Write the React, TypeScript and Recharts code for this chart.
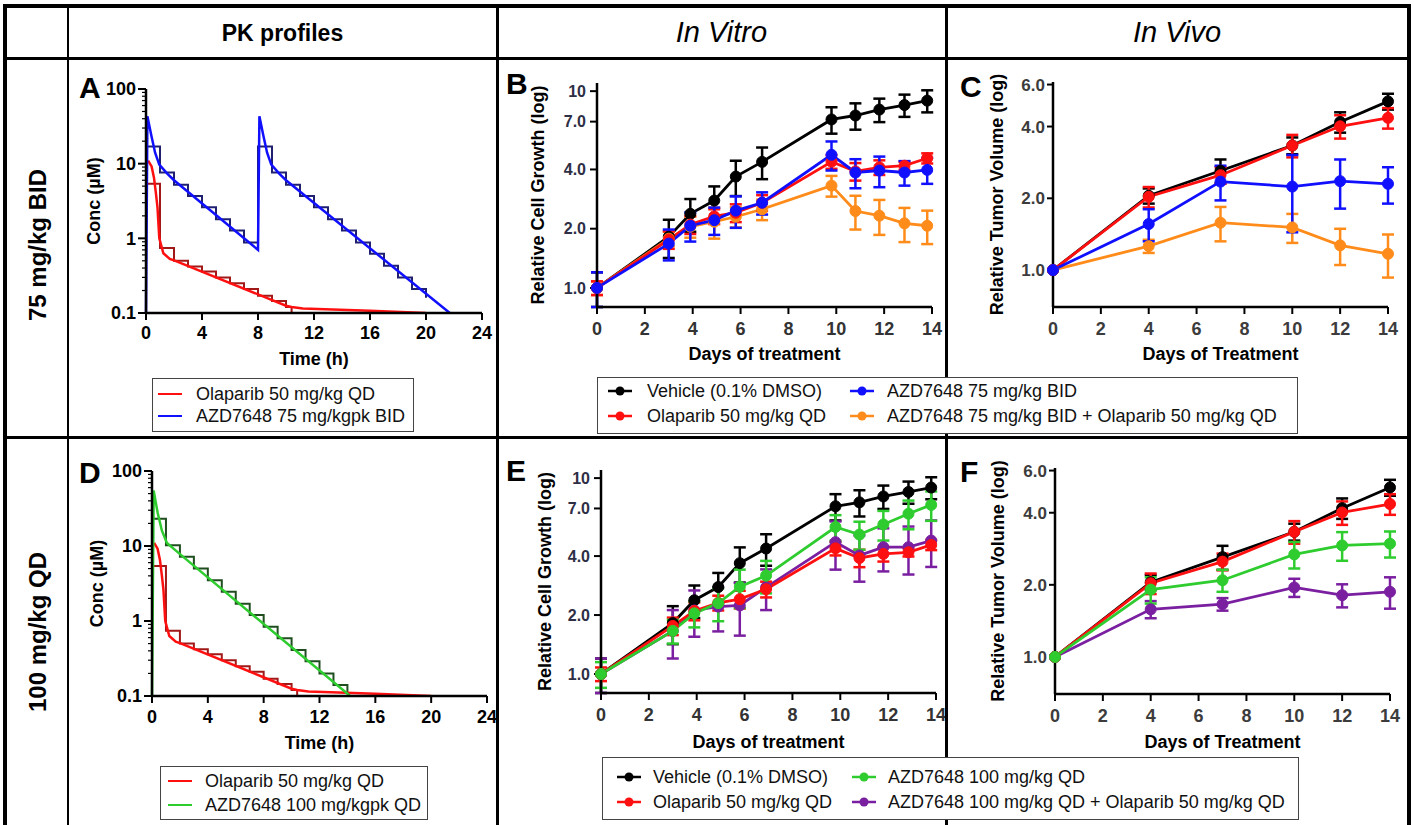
import React from 'react'
import { LineChart, Line, XAxis, YAxis, ErrorBar } from 'recharts'

const FONT = '"Liberation Sans", Arial, Helvetica, sans-serif'

const BLACK = '#000000'
const RED = '#ff1010'
const BLUE = '#1010ff'
const ORANGE = '#ff8c1a'
const GREEN = '#2ecc2e'
const PURPLE = '#7a1fa0'
const RED_STEP = '#a01818'
const BLUE_STEP = '#202070'
const GREEN_STEP = '#1f4d1f'

// ---- PK profiles (time in h, conc in uM) ----
const olaCurveTime = [0.15, 0.4, 0.57, 0.71, 0.82, 0.95, 1.24, 1.7, 2.1, 10, 10.4, 11.2, 16, 20]
const olaCurveConc = [11, 9.2, 6.5, 4.0, 2.6, 1.0, 0.63, 0.53, 0.5, 0.125, 0.12, 0.115, 0.107, 0.1]
const olaStepTime = [0, 1, 2, 3, 4, 5, 6, 7, 8, 9, 10, 10.4]
const olaStepConc = [5.4, 0.74, 0.5, 0.42, 0.36, 0.3, 0.25, 0.21, 0.17, 0.145, 0.12, 0.1]

const azd75CurveTime = [0, 0.1, 0.4, 0.65, 0.95, 1.5, 2, 8, 8.1, 8.4, 8.65, 8.95, 9.5, 10, 21.7]
const azd75CurveConc = [0.1, 43, 23, 14, 9.7, 7.4, 6.0, 0.7, 43, 23, 14, 9.7, 7.4, 6.0, 0.1]
const azd75StepTime = [0, 1, 2, 3, 4, 5, 6, 7, 8, 9, 10, 11, 12, 13, 14, 15, 16, 17, 18, 19, 20]
const azd75StepConc = [17, 7.6, 5.2, 3.7, 2.6, 1.8, 1.27, 0.88, 17, 7.6, 5.2, 3.7, 2.6, 1.8, 1.27, 0.88, 0.62, 0.43, 0.3, 0.21, 0.16]

const azd100CurveTime = [0, 0.12, 0.4, 0.71, 1.07, 1.67, 2.26, 14.2]
const azd100CurveConc = [0.1, 55, 28, 16, 11, 8.8, 7.1, 0.1]
const azd100StepTime = [0, 1, 2, 3, 4, 5, 6, 7, 8, 9, 10, 11, 12, 13, 14]
const azd100StepConc = [23, 10.2, 7.2, 5.0, 3.5, 2.45, 1.7, 1.2, 0.84, 0.59, 0.41, 0.29, 0.2, 0.14, 0.11]

const pkXTicks = [0, 4, 8, 12, 16, 20, 24]
const pkMajorTicks = [0.1, 1, 10, 100]
const pkAllTicks = [0.1, 0.2, 0.3, 0.4, 0.5, 0.6, 0.7, 0.8, 0.9, 1, 2, 3, 4, 5, 6, 7, 8, 9, 10, 20, 30, 40, 50, 60, 70, 80, 90, 100]

// ---- In vitro (days, relative cell growth) ----
const vitroDays = [0, 3, 3.9, 4.9, 5.8, 6.9, 9.8, 10.8, 11.8, 12.85, 13.8]
const vehicleVitro = [1.0, 1.82, 2.38, 2.78, 3.68, 4.37, 7.18, 7.52, 8.06, 8.5, 8.95]
const vehicleVitroSd = [0.2, 0.4, 0.45, 0.5, 0.75, 0.8, 1.1, 1.15, 1.1, 1.1, 1.15]
const olaVitro = [1.0, 1.76, 2.1, 2.31, 2.41, 2.71, 4.38, 3.91, 4.1, 4.18, 4.56]
const olaVitroSd = [0.08, 0.18, 0.22, 0.2, 0.25, 0.25, 0.35, 0.4, 0.35, 0.2, 0.27]
const azd75Vitro = [1.0, 1.68, 2.07, 2.21, 2.47, 2.71, 4.75, 3.86, 3.95, 3.86, 3.98]
const azd75VitroSd = [0.2, 0.3, 0.35, 0.35, 0.45, 0.35, 0.8, 0.65, 0.7, 0.55, 0.6]
const combo75Vitro = [1.0, 1.78, 2.05, 2.17, 2.3, 2.51, 3.31, 2.46, 2.33, 2.13, 2.07]
const combo75VitroSd = [0.08, 0.15, 0.25, 0.39, 0.27, 0.3, 0.4, 0.48, 0.47, 0.42, 0.4]
const azd100Vitro = [1.0, 1.66, 2.04, 2.3, 2.79, 3.18, 5.63, 5.15, 5.8, 6.58, 7.3]
const azd100VitroSd = [0.15, 0.23, 0.31, 0.44, 0.62, 0.6, 0.84, 0.84, 1.0, 1.1, 1.25]
const combo100Vitro = [1.0, 1.66, 2.11, 2.21, 2.24, 2.77, 4.71, 4.03, 4.44, 4.44, 4.8]
const combo100VitroSd = [0.2, 0.46, 0.56, 0.56, 0.67, 0.65, 1.3, 1.07, 1.1, 1.22, 1.28]
const vitroXTicks = [0, 2, 4, 6, 8, 10, 12, 14]
const vitroYTicks = [1, 2, 4, 7, 10]

// ---- In vivo (days, relative tumor volume) ----
const vivoDays = [0, 4, 7, 10, 12, 14]
const vehicleVivo = [1.0, 2.05, 2.61, 3.33, 4.18, 5.1]
const vehicleVivoSd = [0, 0.15, 0.3, 0.27, 0.41, 0.39]
const olaVivo = [1.0, 2.03, 2.5, 3.33, 4.01, 4.35]
const olaVivoSd = [0, 0.2, 0.2, 0.36, 0.45, 0.43]
const azd75Vivo = [1.0, 1.56, 2.35, 2.24, 2.36, 2.3]
const azd75VivoSd = [0, 0.24, 0.39, 0.8, 0.55, 0.4]
const combo75Vivo = [1.0, 1.26, 1.58, 1.51, 1.27, 1.17]
const combo75VivoSd = [0, 0.08, 0.26, 0.21, 0.22, 0.24]
const azd100Vivo = [1.0, 1.91, 2.09, 2.68, 2.92, 2.97]
const azd100VivoSd = [0, 0.24, 0.22, 0.34, 0.4, 0.37]
const combo100Vivo = [1.0, 1.58, 1.66, 1.95, 1.81, 1.87]
const combo100VivoSd = [0, 0.13, 0.1, 0.17, 0.2, 0.28]
const vivoXTicks = [0, 2, 4, 6, 8, 10, 12, 14]
const vivoYTicks = [1, 2, 4, 6]

const pts = (time: number[], conc: number[]) => time.map((t, i) => ({ t, c: conc[i] }))

const vitroRows = vitroDays.map((day, i) => ({
  day,
  veh: vehicleVitro[i], vehSd: vehicleVitroSd[i],
  ola: olaVitro[i], olaSd: olaVitroSd[i],
  a75: azd75Vitro[i], a75Sd: azd75VitroSd[i],
  c75: combo75Vitro[i], c75Sd: combo75VitroSd[i],
  a100: azd100Vitro[i], a100Sd: azd100VitroSd[i],
  c100: combo100Vitro[i], c100Sd: combo100VitroSd[i],
}))

const vivoRows = vivoDays.map((day, i) => ({
  day,
  veh: vehicleVivo[i], vehSd: vehicleVivoSd[i],
  ola: olaVivo[i], olaSd: olaVivoSd[i],
  a75: azd75Vivo[i], a75Sd: azd75VivoSd[i],
  c75: combo75Vivo[i], c75Sd: combo75VivoSd[i],
  a100: azd100Vivo[i], a100Sd: azd100VivoSd[i],
  c100: combo100Vivo[i], c100Sd: combo100VivoSd[i],
}))

const titleStyle = (size: number, middle: boolean) => ({
  fontSize: size, fontWeight: 700, fill: '#000', fontFamily: FONT, ...(middle ? { textAnchor: 'middle' as const } : {}),
})

function PkYTick(props: any) {
  const { x, y, payload } = props
  const v = payload.value
  const major = pkMajorTicks.includes(v)
  const ax = x + 10
  return (
    <g>
      <line x1={ax} x2={ax - (major ? 8 : 4)} y1={y} y2={y} stroke="#000" strokeWidth={major ? 2 : 1.2} />
      {major && (
        <text x={x} y={y} dy="0.36em" textAnchor="end" fontSize={18} fontWeight={700} fill="#000" fontFamily={FONT}>
          {String(v)}
        </text>
      )}
    </g>
  )
}

type PkSeries = { key: string; time: number[]; conc: number[]; color: string; width: number; step?: boolean }

function PkPanel(p: {
  left: number; top: number; yWidth: number; mt: number; mr: number; plotH: number
  xTickMargin: number; xLabelOffset: number; yLabelOffset: number; series: PkSeries[]
}) {
  const xH = 57
  return (
    <div style={{ position: 'absolute', left: p.left, top: p.top }}>
      <LineChart width={430} height={p.mt + p.plotH + xH} margin={{ top: p.mt, right: p.mr, bottom: 0, left: 0 }}>
        <XAxis
          dataKey="t" type="number" domain={[0, 24]} ticks={pkXTicks} interval={0} height={xH}
          axisLine={{ stroke: '#000', strokeWidth: 2.5 }} tickLine={{ stroke: '#000', strokeWidth: 2 }}
          tickSize={7} tickMargin={p.xTickMargin}
          tick={{ fill: '#000', fontSize: 18, fontWeight: 700, fontFamily: FONT }}
          label={{ value: 'Time (h)', position: 'insideBottom', offset: p.xLabelOffset, fontSize: 18, style: titleStyle(18, false) }}
        />
        <YAxis
          scale="log" type="number" domain={[0.1, 100]} allowDataOverflow ticks={pkAllTicks} interval={0}
          width={p.yWidth} axisLine={{ stroke: '#000', strokeWidth: 2.5 }} tickLine={false}
          tickSize={8} tickMargin={2} tick={<PkYTick />}
          label={{ value: 'Conc (\u00b5M)', angle: -90, position: 'insideLeft', offset: p.yLabelOffset, fontSize: 18, style: titleStyle(18, true) }}
        />
        {p.series.map((s) => (
          <Line
            key={s.key} data={pts(s.time, s.conc)} dataKey="c" type={s.step ? 'stepAfter' : 'linear'}
            stroke={s.color} strokeWidth={s.width} dot={false} activeDot={false} isAnimationActive={false}
          />
        ))}
      </LineChart>
    </div>
  )
}

type GrowthSeries = { key: string; sd: string; color: string }

function GrowthPanel(p: {
  left: number; top: number; width: number; yWidth: number; mt: number; mr: number; plotH: number
  rows: any[]; domain: [number, number]; yTicks: number[]; xTicks: number[]
  yTickColor: string; xTickColor: string; yTickSize: number; yTickMargin: number; yTickFont: number
  xTitle: string; yTitle: string; xLabelOffset: number; yLabelOffset: number
  series: GrowthSeries[]
}) {
  const xH = 60
  return (
    <div style={{ position: 'absolute', left: p.left, top: p.top }}>
      <LineChart width={p.width} height={p.mt + p.plotH + xH} data={p.rows} margin={{ top: p.mt, right: p.mr, bottom: 0, left: 0 }}>
        <XAxis
          dataKey="day" type="number" domain={[0, 14]} ticks={p.xTicks} interval={0} height={xH}
          axisLine={{ stroke: '#000', strokeWidth: 2.5 }} tickLine={{ stroke: '#000', strokeWidth: 2 }}
          tickSize={7} tickMargin={8}
          tick={{ fill: p.xTickColor, fontSize: 18, fontWeight: 700, fontFamily: FONT }}
          label={{ value: p.xTitle, position: 'insideBottom', offset: p.xLabelOffset, fontSize: 18, style: titleStyle(18, false) }}
        />
        <YAxis
          scale="log" type="number" domain={p.domain} allowDataOverflow ticks={p.yTicks} interval={0}
          width={p.yWidth} axisLine={{ stroke: '#000', strokeWidth: 2.5 }} tickLine={{ stroke: '#000', strokeWidth: 2 }}
          tickSize={p.yTickSize} tickMargin={p.yTickMargin}
          tickFormatter={(v: number) => (v === 10 ? '10' : v.toFixed(1))}
          tick={{ fill: p.yTickColor, fontSize: p.yTickFont, fontWeight: 700, fontFamily: FONT }}
          label={{ value: p.yTitle, angle: -90, position: 'insideLeft', offset: p.yLabelOffset, fontSize: 18, style: titleStyle(18, true) }}
        />
        {p.series.map((s) => (
          <Line
            key={s.key} dataKey={s.key} type="linear" stroke={s.color} strokeWidth={2.8}
            dot={{ r: 5.5, fill: s.color, stroke: s.color, strokeWidth: 1 }} activeDot={false} isAnimationActive={false}
          >
            <ErrorBar dataKey={s.sd} direction="y" width={6} stroke={s.color} strokeWidth={2.5} isAnimationActive={false} />
          </Line>
        ))}
      </LineChart>
    </div>
  )
}

function LegendEntry({ x, textX, y, color, label, dot }: { x: number; textX: number; y: number; color: string; label: string; dot: boolean }) {
  return (
    <>
      <svg style={{ position: 'absolute', left: x, top: y - 6 }} width={24} height={12}>
        <line x1={0} y1={6} x2={24} y2={6} stroke={color} strokeWidth={dot ? 2.5 : 2} />
        {dot && <circle cx={12} cy={6} r={4.5} fill={color} />}
      </svg>
      <div style={{ position: 'absolute', left: textX, top: y - 11, height: 22, lineHeight: '22px', fontSize: 18, whiteSpace: 'nowrap', color: '#111' }}>
        {label}
      </div>
    </>
  )
}

function Box({ left, top, width, height }: { left: number; top: number; width: number; height: number }) {
  return <div style={{ position: 'absolute', left, top, width, height, border: '1.5px solid #444', background: '#fff', boxSizing: 'border-box' }} />
}

function Rule({ left, top, width, height }: { left: number; top: number; width: number; height: number }) {
  return <div style={{ position: 'absolute', left, top, width, height, background: '#000' }} />
}

function Letter({ left, top, text }: { left: number; top: number; text: string }) {
  return <div style={{ position: 'absolute', left, top, fontSize: 30, fontWeight: 700, lineHeight: '30px' }}>{text}</div>
}

export default function App() {
  return (
    <div style={{ position: 'absolute', left: 0, top: 0, width: 1414, height: 825, background: '#fff', overflow: 'hidden', fontFamily: FONT, color: '#000' }}>
      {/* table rules */}
      <Rule left={3} top={4} width={1408} height={4} />
      <Rule left={3} top={4} width={4} height={821} />
      <Rule left={1407} top={4} width={4} height={821} />
      <Rule left={3} top={57} width={1408} height={2.5} />
      <Rule left={67} top={4} width={2} height={821} />
      <Rule left={496} top={4} width={2.5} height={821} />
      <Rule left={945} top={4} width={2.5} height={821} />
      <Rule left={3} top={436} width={1408} height={2.5} />

      {/* headers */}
      <div style={{ position: 'absolute', left: 69, top: 9, width: 427, height: 49, display: 'flex', alignItems: 'center', justifyContent: 'center', fontSize: 23, fontWeight: 700 }}>PK profiles</div>
      <div style={{ position: 'absolute', left: 498, top: 8, width: 447, height: 49, display: 'flex', alignItems: 'center', justifyContent: 'center', fontSize: 29, fontStyle: 'italic' }}>In Vitro</div>
      <div style={{ position: 'absolute', left: 947, top: 8, width: 460, height: 49, display: 'flex', alignItems: 'center', justifyContent: 'center', fontSize: 29, fontStyle: 'italic' }}>In Vivo</div>

      <div style={{ position: 'absolute', left: 38, top: 245, transform: 'translate(-50%, -50%) rotate(-90deg)', fontSize: 24, fontWeight: 700, whiteSpace: 'nowrap' }}>75 mg/kg BID</div>
      <div style={{ position: 'absolute', left: 38, top: 632, transform: 'translate(-50%, -50%) rotate(-90deg)', fontSize: 24, fontWeight: 700, whiteSpace: 'nowrap' }}>100 mg/kg QD</div>

      {/* A */}
      <PkPanel
        left={70} top={78} yWidth={76} mt={11} mr={18} plotH={224} xTickMargin={6} xLabelOffset={5} yLabelOffset={24}
        series={[
          { key: 'olaStep', time: olaStepTime, conc: olaStepConc, color: RED_STEP, width: 2, step: true },
          { key: 'azdStep', time: azd75StepTime, conc: azd75StepConc, color: BLUE_STEP, width: 2, step: true },
          { key: 'ola', time: olaCurveTime, conc: olaCurveConc, color: RED, width: 2.5 },
          { key: 'azd', time: azd75CurveTime, conc: azd75CurveConc, color: BLUE, width: 2.5 },
        ]}
      />
      {/* D */}
      <PkPanel
        left={70} top={460} yWidth={82} mt={11} mr={13} plotH={225} xTickMargin={7} xLabelOffset={4} yLabelOffset={27}
        series={[
          { key: 'olaStep', time: olaStepTime, conc: olaStepConc, color: RED_STEP, width: 2, step: true },
          { key: 'azdStep', time: azd100StepTime, conc: azd100StepConc, color: GREEN_STEP, width: 2, step: true },
          { key: 'ola', time: olaCurveTime, conc: olaCurveConc, color: RED, width: 2.5 },
          { key: 'azd', time: azd100CurveTime, conc: azd100CurveConc, color: GREEN, width: 2.5 },
        ]}
      />

      {/* B */}
      <GrowthPanel
        left={500} top={70} width={445} yWidth={97} mt={13} mr={13} plotH={224}
        rows={vitroRows} domain={[0.8, 11]} yTicks={vitroYTicks} xTicks={vitroXTicks}
        yTickColor="#2e2e45" xTickColor="#333" yTickSize={7} yTickMargin={4} yTickFont={16}
        xTitle="Days of treatment" yTitle="Relative Cell Growth (log)" xLabelOffset={7} yLabelOffset={38}
        series={[
          { key: 'veh', sd: 'vehSd', color: BLACK },
          { key: 'c75', sd: 'c75Sd', color: ORANGE },
          { key: 'ola', sd: 'olaSd', color: RED },
          { key: 'a75', sd: 'a75Sd', color: BLUE },
        ]}
      />
      {/* E */}
      <GrowthPanel
        left={500} top={460} width={445} yWidth={101} mt={10} mr={9} plotH={223}
        rows={vitroRows} domain={[0.8, 11]} yTicks={vitroYTicks} xTicks={vitroXTicks}
        yTickColor="#2e2e45" xTickColor="#333" yTickSize={7} yTickMargin={4} yTickFont={16}
        xTitle="Days of treatment" yTitle="Relative Cell Growth (log)" xLabelOffset={5} yLabelOffset={45}
        series={[
          { key: 'veh', sd: 'vehSd', color: BLACK },
          { key: 'c100', sd: 'c100Sd', color: PURPLE },
          { key: 'ola', sd: 'olaSd', color: RED },
          { key: 'a100', sd: 'a100Sd', color: GREEN },
        ]}
      />
      {/* C */}
      <GrowthPanel
        left={945} top={70} width={460} yWidth={108} mt={12} mr={17} plotH={225}
        rows={vivoRows} domain={[0.7, 6.15]} yTicks={vivoYTicks} xTicks={vivoXTicks}
        yTickColor="#3c3c3c" xTickColor="#3c3c3c" yTickSize={6} yTickMargin={2} yTickFont={17}
        xTitle="Days of Treatment" yTitle="Relative Tumor Volume (log)" xLabelOffset={7} yLabelOffset={52}
        series={[
          { key: 'veh', sd: 'vehSd', color: BLACK },
          { key: 'c75', sd: 'c75Sd', color: ORANGE },
          { key: 'ola', sd: 'olaSd', color: RED },
          { key: 'a75', sd: 'a75Sd', color: BLUE },
        ]}
      />
      {/* F */}
      <GrowthPanel
        left={945} top={460} width={460} yWidth={110} mt={8} mr={15} plotH={226}
        rows={vivoRows} domain={[0.7, 6.15]} yTicks={vivoYTicks} xTicks={vivoXTicks}
        yTickColor="#3c3c3c" xTickColor="#3c3c3c" yTickSize={6} yTickMargin={2} yTickFont={17}
        xTitle="Days of Treatment" yTitle="Relative Tumor Volume (log)" xLabelOffset={6} yLabelOffset={53}
        series={[
          { key: 'veh', sd: 'vehSd', color: BLACK },
          { key: 'c100', sd: 'c100Sd', color: PURPLE },
          { key: 'ola', sd: 'olaSd', color: RED },
          { key: 'a100', sd: 'a100Sd', color: GREEN },
        ]}
      />

      <Letter left={79} top={73} text="A" />
      <Letter left={506} top={69} text="B" />
      <Letter left={960} top={72} text="C" />
      <Letter left={79} top={458} text="D" />
      <Letter left={506} top={456} text="E" />
      <Letter left={960} top={457} text="F" />

      {/* PK legend A */}
      <Box left={152} top={378} width={262} height={54} />
      <LegendEntry x={158} textX={196} y={394} color={RED} label="Olaparib 50 mg/kg QD" dot={false} />
      <LegendEntry x={158} textX={196} y={416} color={BLUE} label="AZD7648 75 mg/kgpk BID" dot={false} />

      {/* PK legend D */}
      <Box left={160} top={766} width={268} height={54} />
      <LegendEntry x={168} textX={205} y={781} color={RED} label="Olaparib 50 mg/kg QD" dot={false} />
      <LegendEntry x={168} textX={205} y={805} color={GREEN} label="AZD7648 100 mg/kgpk QD" dot={false} />

      {/* B/C legend */}
      <Box left={597} top={377} width={701} height={57} />
      <LegendEntry x={608} textX={647} y={391} color={BLACK} label="Vehicle (0.1% DMSO)" dot />
      <LegendEntry x={608} textX={647} y={416} color={RED} label="Olaparib 50 mg/kg QD" dot />
      <LegendEntry x={850} textX={887} y={391} color={BLUE} label="AZD7648 75 mg/kg BID" dot />
      <LegendEntry x={850} textX={887} y={416} color={ORANGE} label="AZD7648 75 mg/kg BID + Olaparib 50 mg/kg QD" dot />

      {/* E/F legend */}
      <Box left={602} top={757} width={697} height={63} />
      <LegendEntry x={617} textX={653} y={777} color={BLACK} label="Vehicle (0.1% DMSO)" dot />
      <LegendEntry x={617} textX={653} y={802} color={RED} label="Olaparib 50 mg/kg QD" dot />
      <LegendEntry x={852} textX={888} y={777} color={GREEN} label="AZD7648 100 mg/kg QD" dot />
      <LegendEntry x={852} textX={888} y={802} color={PURPLE} label="AZD7648 100 mg/kg QD + Olaparib 50 mg/kg QD" dot />
    </div>
  )
}
